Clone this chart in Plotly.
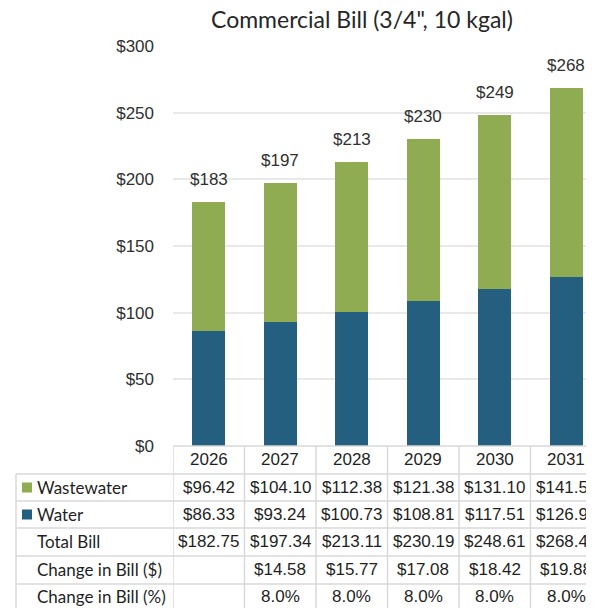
import plotly.graph_objects as go

years = ["2026", "2027", "2028", "2029", "2030", "2031"]
wastewater = [96.42, 104.10, 112.38, 121.38, 131.10, 141.57]
water = [86.33, 93.24, 100.73, 108.81, 117.51, 126.91]
total_bill = [182.75, 197.34, 213.11, 230.19, 248.61, 268.49]
change_usd = [None, 14.58, 15.77, 17.08, 18.42, 19.88]
change_pct = [None, 8.0, 8.0, 8.0, 8.0, 8.0]

GREEN = "#8FAC52"
BLUE = "#245F80"
GRID = "#e9e9e9"
LINE = "#d9d9d9"
OFF = 8  # page body margin
W, H = 594 - OFF, 608 - OFF


def px_y(p):
    # window pixel from top -> paper coordinate
    return 1 - (p - OFF) / H


def px_x(p):
    return (p - OFF) / W


# x range so that the right window edge cuts the last column like the original
col_w = 71.5
x_end = -0.5 + (594 - 173) / col_w

xs = list(range(len(years)))
fig = go.Figure()
fig.add_trace(go.Bar(x=xs, y=water, name="Water", marker_color=BLUE,
                     width=0.46, marker_line_width=0))
fig.add_trace(go.Bar(x=xs, y=wastewater, name="Wastewater", marker_color=GREEN,
                     width=0.46, marker_line_width=0))

shapes = []
annotations = []

# totals above the bars
for k, v in enumerate(total_bill):
    annotations.append(dict(x=k, y=v, xref="x", yref="y", text="$%d" % round(v),
                            showarrow=False, yanchor="bottom", yshift=11,
                            font=dict(family="Liberation Sans", size=17, color="#303030")))

# table geometry (window pixels)
row_edges = [446, 474, 501, 528, 556, 584, 620]
left_px = 16

for i, yp in enumerate(row_edges):
    x0 = px_x(173) if i == 0 else px_x(left_px)
    shapes.append(dict(type="line", xref="paper", yref="paper",
                       x0=x0, x1=1, y0=px_y(yp), y1=px_y(yp),
                       line=dict(color=LINE, width=1.5)))
for k in range(len(years) + 1):
    shapes.append(dict(type="line", xref="x", yref="paper",
                       x0=k - 0.5, x1=k - 0.5, y0=px_y(row_edges[0]), y1=0,
                       line=dict(color=LINE, width=1.5)))
shapes.append(dict(type="line", xref="paper", yref="paper",
                   x0=px_x(left_px), x1=px_x(left_px), y0=px_y(row_edges[1]), y1=0,
                   line=dict(color=LINE, width=1.5)))

# legend keys
for r, col in [(1, GREEN), (2, BLUE)]:
    yc = (row_edges[r] + row_edges[r + 1]) / 2
    shapes.append(dict(type="rect", xref="paper", yref="paper",
                       x0=px_x(22), x1=px_x(32), y0=px_y(yc + 5), y1=px_y(yc - 5),
                       fillcolor=col, line_width=0))

num_font = dict(family="Liberation Sans", size=17, color="#1f1f1f")
lab_font = dict(family="Lato", size=17, color="#1f1f1f")

row_labels = ["Wastewater", "Water", "Total Bill", "Change in Bill ($)", "Change in Bill (%)"]
row_vals = [
    ["$%.2f" % v for v in wastewater],
    ["$%.2f" % v for v in water],
    ["$%.2f" % v for v in total_bill],
    ["" if v is None else "$%.2f" % v for v in change_usd],
    ["" if v is None else "%.1f%%" % v for v in change_pct],
]
row_centers = [459, 487, 514, 541, 569, 596]

for k, yr in enumerate(years):
    annotations.append(dict(x=k, y=px_y(row_centers[0]), xref="x", yref="paper", text=yr,
                            showarrow=False, font=num_font, xanchor="center", yanchor="middle"))

for r, lab in enumerate(row_labels):
    yc = row_centers[r + 1]
    annotations.append(dict(x=px_x(35), y=px_y(yc), xref="paper", yref="paper", text=lab,
                            showarrow=False, font=lab_font, xanchor="left", yanchor="middle"))
    for k, v in enumerate(row_vals[r]):
        if v:
            annotations.append(dict(x=k, y=px_y(yc), xref="x", yref="paper", text=v,
                                    showarrow=False, font=num_font,
                                    xanchor="center", yanchor="middle"))

annotations.append(dict(x=px_x(362), y=px_y(19), xref="paper", yref="paper",
                        text="Commercial Bill (3/4\", 10 kgal)", showarrow=False,
                        font=dict(family="Lato", size=23, color="#262626"),
                        xanchor="center", yanchor="middle"))

fig.update_layout(
    template="none",
    width=W, height=H,
    margin=dict(l=0, r=0, t=0, b=0, autoexpand=False),
    paper_bgcolor="white", plot_bgcolor="white",
    barmode="stack", bargap=0, showlegend=False,
    shapes=shapes, annotations=annotations,
    xaxis=dict(domain=[px_x(173), 1], range=[-0.5, x_end], showticklabels=False,
               showgrid=False, zeroline=False, ticks="", automargin=False),
    yaxis=dict(domain=[px_y(446), px_y(46)], range=[0, 300], dtick=50,
               tickprefix="$", gridcolor=GRID, gridwidth=1.5, zeroline=False,
               ticks="", ticklabelstandoff=18, automargin=False, showline=False,
               tickfont=dict(family="Liberation Sans", size=17, color="#303030")),
)

fig.write_html("out.html")
